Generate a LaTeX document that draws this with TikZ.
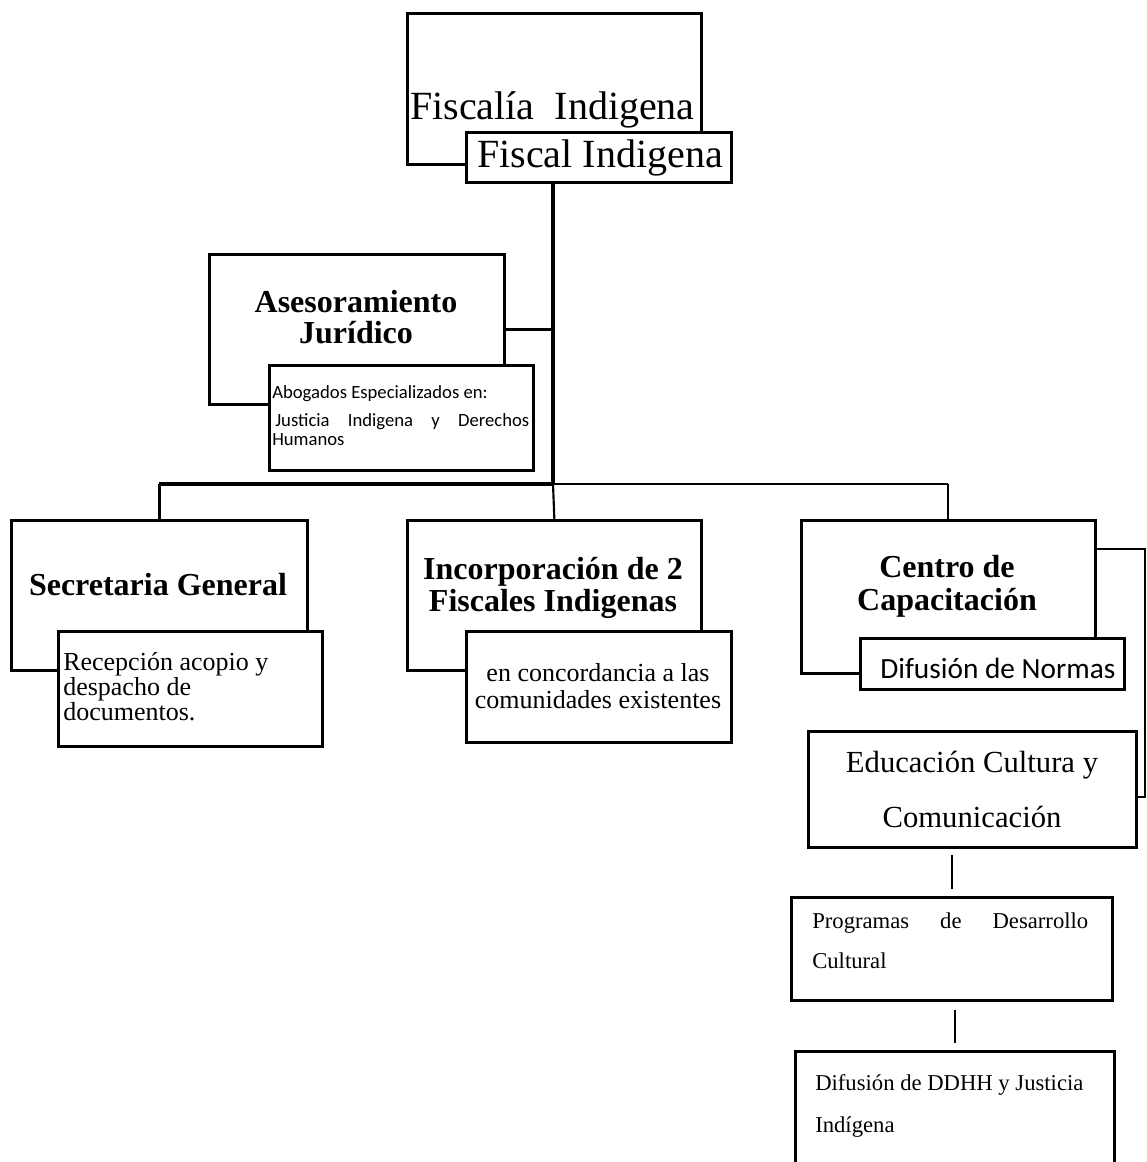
\documentclass[tikz,border=0pt]{standalone}
\usepackage{fontspec}
\setmainfont{Liberation Serif}
\newfontfamily\carl{Carlito}
\newdimen\pxu \pxu=0.75pt
\newcommand\mybox[5]{\node[bx, minimum width={(#4-#2)*0.75pt}, minimum height={(#5-#3)*0.75pt}] (#1) at (#2,#3) {};}
\tikzset{
  bx/.style={draw, line width=2pt, inner sep=0pt, anchor=north west, fill=white},
  tx/.style={inner sep=0pt, anchor=base},
  txl/.style={inner sep=0pt, anchor=base west},
  big/.style={font=\fontsize{30}{36}\selectfont},
  hd/.style={font=\fontsize{24}{28}\selectfont\bfseries},
  sub/.style={font=\fontsize{19.5}{23}\selectfont},
  cal/.style={font=\carl\fontsize{14}{16}\selectfont},
  calb/.style={font=\carl\fontsize{22}{26}\selectfont},
  edu/.style={font=\fontsize{23}{27}\selectfont},
  sm/.style={font=\fontsize{17}{20}\selectfont},
  thickln/.style={line width=3.4pt},
  medln/.style={line width=2.5pt},
  normln/.style={line width=1.6pt},
  thinln/.style={line width=1.1pt},
}
\begin{document}
\begin{tikzpicture}[x=0.75pt,y=-0.75pt]
\clip (0,0) rectangle (1146,1162);
\useasboundingbox (0,0) rectangle (1146,1162);
\coordinate (hub) at (553,484);
\coordinate (br1) at (1145,549);
\coordinate (br2) at (1145,797);

% top
\mybox{fiscalia}{406}{12}{700}{163}
\node[txl,big] (tfiscalia) at (410,120) {Fiscalía\ \ Indigena};
\mybox{fiscal}{465}{131}{730}{181}
\node[txl,big] (tfiscal) at (477,168) {Fiscal Indigena};
\draw[medln] (fiscal.south -| hub) -- (hub);

% asesoramiento
\mybox{asesor}{208}{253}{503}{403}
\node[tx,hd] (tas1) at (356,312) {Asesoramiento};
\node[tx,hd] (tas2) at (356,343) {Jurídico};
\draw[medln] (asesor.east) -- (asesor.east -| hub);
\mybox{abog}{268}{364}{532}{469}
\node[txl,cal] (tab1) at (272,398) {Abogados Especializados en:};
\node[txl,cal] (tab2) at (275,426) {\makebox[254\pxu][s]{Justicia Indigena y Derechos}};
\node[txl,cal] (tab3) at (272,445) {Humanos};

% boxes row
\mybox{secr}{10}{519}{306}{669}
\mybox{inc}{406}{519}{700}{669}
\mybox{centro}{800}{519}{1094}{672}

\draw[thickln] (secr.north |- hub) -- (hub);
\draw[normln] (hub) -- (centro.north |- hub);
\draw[medln] (secr.north |- hub) -- (secr.north);
\draw[normln] (hub) -- (inc.north);
\draw[normln] (centro.north |- hub) -- (centro.north);

\node[tx,hd] (tsecr) at (158,595) {Secretaria General};
\mybox{recep}{57}{630}{321}{745}
\node[txl,sub] (tr1) at (63,670) {Recepción acopio y};
\node[txl,sub] (tr2) at (63,695) {despacho de};
\node[txl,sub] (tr3) at (63,720) {documentos.};

\node[tx,hd] (tinc1) at (553,579) {Incorporación de 2};
\node[tx,hd] (tinc2) at (553,611) {Fiscales Indigenas};
\mybox{conc}{465}{630}{730}{741}
\node[tx,sub] (tc1) at (598,681) {en concordancia a las};
\node[tx,sub] (tc2) at (598,708) {comunidades existentes};

\node[tx,hd] (tce1) at (947,577) {Centro de};
\node[tx,hd] (tce2) at (947,610) {Capacitación};
\mybox{normas}{859}{637}{1123}{688}
\node[txl,calb] (tnor) at (880,678) {Difusión de Normas};

% right column
\mybox{educ}{807}{730}{1135}{846}
\node[tx,edu] (ted1) at (972,772) {Educación Cultura y};
\node[tx,edu] (ted2) at (972,827) {Comunicación};
\draw[thinln] (centro.east |- br1) -- (br1) -- (br2) -- (educ.east |- br2);

\mybox{prog}{790}{896}{1111}{999}
\node[txl,sm] (tp1) at (812,928) {\makebox[276\pxu][s]{Programas de Desarrollo}};
\node[txl,sm] (tp2) at (812,968) {Cultural};
\draw[thinln, shorten <=6\pxu, shorten >=7\pxu] (prog.north |- educ.south) -- (prog.north);

\mybox{ddhh}{794}{1050}{1113}{1200}
\node[txl,sm] (td1) at (815,1090) {Difusión de DDHH y Justicia};
\node[txl,sm] (td2) at (815,1132) {Indígena};
\draw[thinln, shorten <=8\pxu, shorten >=7\pxu] (ddhh.north |- prog.south) -- (ddhh.north);
\end{tikzpicture}
\end{document}
